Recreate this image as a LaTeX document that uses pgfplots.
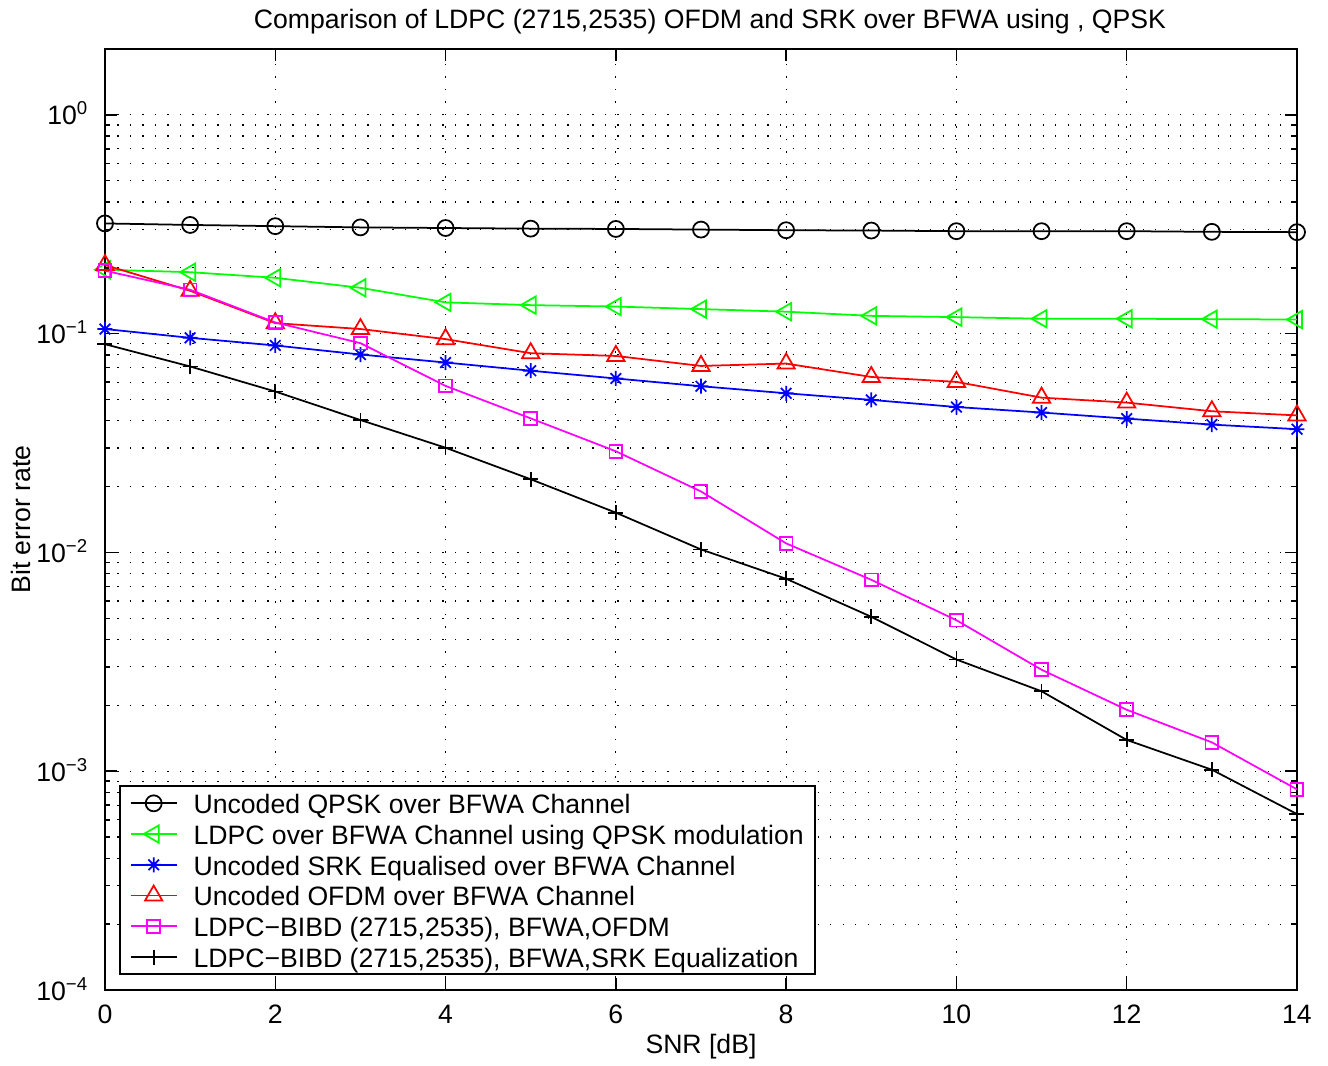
\documentclass[border=0pt]{standalone}
\usepackage{fontspec}
\setmainfont{Liberation Sans}
\usepackage{pgfplots}
\pgfplotsset{compat=1.18}
\definecolor{mgreen}{rgb}{0,1,0}
\definecolor{mmag}{rgb}{1,0,1}
\pgfdeclareplotmark{mstar}{%
 \pgfpathmoveto{\pgfqpoint{\pgfplotmarksize}{0pt}}\pgfpathlineto{\pgfqpoint{-\pgfplotmarksize}{0pt}}%
 \pgfpathmoveto{\pgfqpoint{0pt}{\pgfplotmarksize}}\pgfpathlineto{\pgfqpoint{0pt}{-\pgfplotmarksize}}%
 \pgfpathmoveto{\pgfqpoint{.707\pgfplotmarksize}{.707\pgfplotmarksize}}\pgfpathlineto{\pgfqpoint{-.707\pgfplotmarksize}{-.707\pgfplotmarksize}}%
 \pgfpathmoveto{\pgfqpoint{-.707\pgfplotmarksize}{.707\pgfplotmarksize}}\pgfpathlineto{\pgfqpoint{.707\pgfplotmarksize}{-.707\pgfplotmarksize}}%
 \pgfusepathqstroke}
\begin{document}
\begin{tikzpicture}
\begin{axis}[
 at={(0,0)}, anchor=south west,
 scale only axis, width=476.8pt, height=376.4pt,
 ymode=log, xmin=0, xmax=14, ymin=1e-4, ymax=2,
 xtick={0,2,...,14},
 ytick={1e-4,1e-3,1e-2,1e-1,1},
 yticklabels={10\textsuperscript{−4},10\textsuperscript{−3},10\textsuperscript{−2},10\textsuperscript{−1},10\textsuperscript{0}},
 minor ytick={2e-4,3e-4,4e-4,5e-4,6e-4,7e-4,8e-4,9e-4,2e-3,3e-3,4e-3,5e-3,6e-3,7e-3,8e-3,9e-3,2e-2,3e-2,4e-2,5e-2,6e-2,7e-2,8e-2,9e-2,0.2,0.3,0.4,0.5,0.6,0.7,0.8,0.9,2},
 xmajorgrids, ymajorgrids, yminorgrids,
 major grid style={black, line width=0.5pt, dash pattern=on 0.5pt off 4.5pt},
 minor grid style={black, line width=0.5pt, dash pattern=on 0.5pt off 4.5pt},
 tick align=inside,
 major tick length=4.8pt, minor tick length=2.2pt,
 every tick/.style={black, line width=0.6pt},
 axis line style={line width=0.7pt},
 font=\fontsize{10.65}{12.8}\selectfont,
 /pgf/number format/assume math mode=true,
 xticklabel style={anchor=base, yshift=-13.2pt, inner sep=0pt},
 yticklabel style={anchor=base east, inner sep=0pt, xshift=-6.4pt, yshift=-4pt},
 title={Comparison of LDPC (2715,2535) OFDM and SRK over BFWA using , QPSK},
 every axis title shift=0pt,
 title style={at={(axis description cs:0.5075,1.0213)}, anchor=base, inner sep=0pt},
 xlabel={SNR [dB]},
 xlabel style={at={(axis description cs:0.5,-0.068)}, anchor=base, inner sep=0pt},
 ylabel={Bit error rate},
 ylabel style={at={(axis description cs:-0.0629,0.5)}, anchor=base, inner sep=0pt},
 clip=false,
 every axis plot/.append style={line width=0.7pt},
 legend cell align=left,
 legend image code/.code={\path (0pt,0pt); \draw[mark repeat=2,mark phase=2,#1] plot coordinates {(2.8pt,0pt)(12pt,0pt)(21.2pt,0pt)};},
 legend style={at={(axis description cs:0.0117,0.016)}, anchor=south west, draw=black, line width=0.7pt, fill=white,
   inner xsep=1.2pt, inner ysep=0.65pt, row sep=0pt,
   /tikz/every odd column/.append style={column sep=3.2pt},
   nodes={inner xsep=3.2pt, inner ysep=0pt, text height=10.3pt, text depth=2pt}},
]
\addplot[black, mark=o, mark size=3.2pt, mark options={solid}] coordinates {
(0,0.319)(1,0.314)(2,0.310)(3,0.306)(4,0.304)(5,0.302)(6,0.301)(7,0.299)(8,0.297)(9,0.296)(10,0.294)(11,0.294)(12,0.294)(13,0.292)(14,0.291)};
\addlegendentry{Uncoded QPSK over BFWA Channel}
\addplot[mgreen, mark=triangle, mark size=4pt, mark options={solid, rotate=90}] coordinates {
(0,0.196)(1,0.191)(2,0.180)(3,0.162)(4,0.139)(5,0.135)(6,0.133)(7,0.1295)(8,0.126)(9,0.1206)(10,0.119)(11,0.117)(12,0.117)(13,0.1165)(14,0.116)};
\addlegendentry{LDPC over BFWA Channel using QPSK modulation}
\addplot[blue, mark=mstar, mark size=3pt, mark options={solid}] coordinates {
(0,0.105)(1,0.0957)(2,0.0883)(3,0.0803)(4,0.0738)(5,0.0677)(6,0.0624)(7,0.0575)(8,0.0534)(9,0.0498)(10,0.0462)(11,0.0436)(12,0.0409)(13,0.0384)(14,0.0366)};
\addlegendentry{Uncoded SRK Equalised over BFWA Channel}
\addplot[red, mark=triangle, mark size=4pt, mark options={solid}] coordinates {
(0,0.206)(1,0.157)(2,0.1117)(3,0.105)(4,0.0944)(5,0.0814)(6,0.0791)(7,0.0712)(8,0.073)(9,0.0634)(10,0.0602)(11,0.051)(12,0.0484)(13,0.0442)(14,0.0423)};
\addlegendentry{Uncoded OFDM over BFWA Channel}
\addplot[mmag, mark=square, mark size=2.55pt, mark options={solid}] coordinates {
(0,0.194)(1,0.1587)(2,0.1125)(3,0.0905)(4,0.0577)(5,0.041)(6,0.029)(7,0.019)(8,0.011)(9,0.0075)(10,0.0049)(11,0.00291)(12,0.00191)(13,0.001355)(14,0.000826)};
\addlegendentry{LDPC−BIBD (2715,2535), BFWA,OFDM}
\addplot[black, mark=+, mark size=3pt, mark options={solid}] coordinates {
(0,0.0895)(1,0.0708)(2,0.0544)(3,0.0403)(4,0.0301)(5,0.0216)(6,0.0152)(7,0.01032)(8,0.00758)(9,0.00508)(10,0.00324)(11,0.00232)(12,0.00139)(13,0.001016)(14,0.000637)};
\addlegendentry{LDPC−BIBD (2715,2535), BFWA,SRK Equalization}
\end{axis}
\pgfresetboundingbox
\path[use as bounding box] (-42pt,-30.4pt) rectangle (489.2pt,396pt);
\end{tikzpicture}
\end{document}
